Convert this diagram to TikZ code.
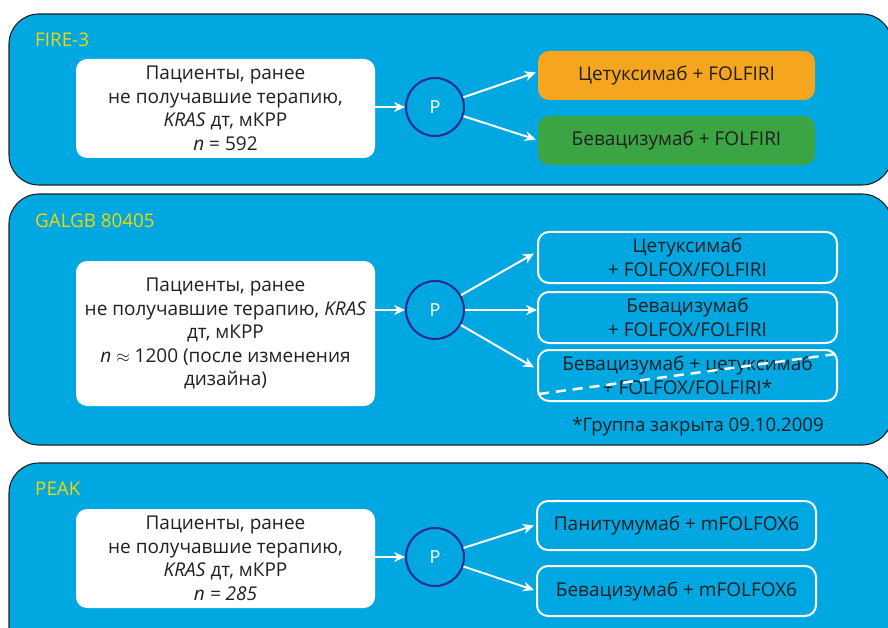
\documentclass[tikz,border=0pt]{standalone}
\usepackage{fontspec}
\setmainfont{Open Sans}
\usetikzlibrary{arrows.meta,calc}
\definecolor{panelblue}{RGB}{0,167,225}
\definecolor{titleyellow}{RGB}{245,214,0}
\definecolor{orangebox}{RGB}{246,166,30}
\definecolor{greenbox}{RGB}{59,165,67}
\definecolor{ringblue}{RGB}{46,42,140}
\definecolor{darktext}{RGB}{35,31,32}
\tikzset{
  panel/.style={draw=darktext, line width=1.1pt, fill=panelblue, rounded corners=30pt},
  ttl/.style={anchor=west, text=titleyellow, font=\fontsize{18.8}{22}\selectfont, inner sep=0pt},
  pbox/.style={fill=white, rounded corners=11pt, align=center, text=darktext,
    font=\fontsize{19}{23.5}\selectfont, minimum width=299pt, inner sep=0pt},
  rnd/.style={circle, draw=ringblue, line width=2pt, fill=panelblue, minimum size=58pt,
    inner sep=0pt, text=white, font=\fontsize{18}{20}\selectfont},
  tbox/.style={rounded corners=11pt, align=center, text=darktext, inner sep=0pt,
    font=\fontsize{19}{23.5}\selectfont},
  obox/.style={tbox, draw=white, line width=2pt},
  arr/.style={draw=white, line width=2pt, -{Stealth[length=11pt,width=10pt]}},
  note/.style={text=darktext, font=\fontsize{18.6}{21}\selectfont, inner sep=0pt}
}
\begin{document}
\begin{tikzpicture}[x=1pt,y=-1pt]
\useasboundingbox (0,0) rectangle (888,628);
% panels
\path[panel] (9,14) rectangle (892,185);
\path[panel] (9,194) rectangle (892,445);
\path[panel] (9,463) rectangle (892,660);
% titles
\node[ttl] (h1) at (35,40) {FIRE-3};
\node[ttl] (h2) at (35,221) {GALGB 80405};
\node[ttl] (h3) at (35,489) {PEAK};
% ---- panel 1
\node[pbox, minimum height=99pt] (p1) at (225.5,108.5)
  {Пациенты, ранее\\не получавшие терапию,\\\textit{KRAS} дт, мКРР\\\textit{n} = 592};
\node[rnd] (r1) at (435,107) {P};
\node[tbox, fill=orangebox, minimum width=277pt, minimum height=49pt] (t1) at (676.5,75.5) {Цетуксимаб + FOLFIRI};
\node[tbox, fill=greenbox, minimum width=277pt, minimum height=49pt] (t2) at (676.5,140.5) {Бевацизумаб + FOLFIRI};
\draw[arr] (p1.east |- r1) -- (r1.west);
\draw[arr] (r1) -- ($(t1.west)+(-2,-3)$);
\draw[arr] (r1) -- ($(t2.west)+(-2,-1)$);
% ---- panel 2
\node[pbox, minimum height=145pt] (p2) at (225.5,333.5)
  {Пациенты, ранее\\не получавшие терапию, \textit{KRAS}\\дт, мКРР\\\textit{n} $\approx$ 1200 (после изменения\\дизайна)};
\node[rnd] (r2) at (435,310) {P};
\node[obox, minimum width=299pt, minimum height=51pt] (t3) at (687.5,257.5) {Цетуксимаб\\+ FOLFOX/FOLFIRI};
\node[obox, minimum width=299pt, minimum height=51pt] (t4) at (687.5,317.5) {Бевацизумаб\\+ FOLFOX/FOLFIRI};
\node[obox, minimum width=299pt, minimum height=51pt] (t5) at (687.5,375.5) {Бевацизумаб + цетуксимаб\\+ FOLFOX/FOLFIRI*};
\draw[white, line width=2.5pt, dash pattern=on 10pt off 7pt] ($(t5.south west)+(2,-8)$) -- ($(t5.north east)+(-2,5)$);
\node[note] (fn) at (698,427) {*Группа закрыта 09.10.2009};
\draw[arr] (p2.east |- r2) -- (r2.west);
\draw[arr] (r2) -- ($(t3.west)+(-3,-4)$);
\draw[arr] (r2.east) -- (r2.east -| t4.west) ;
\draw[arr] (r2) -- ($(t5.west)+(-3,-8)$);
% ---- panel 3
\node[pbox, minimum height=99pt] (p3) at (225.5,558.5)
  {Пациенты, ранее\\не получавшие терапию,\\\textit{KRAS} дт, мКРР\\\textit{n = 285}};
\node[rnd] (r3) at (435,557) {P};
\node[obox, minimum width=279pt, minimum height=49pt] (t6) at (676.5,525.5) {Панитумумаб + mFOLFOX6};
\node[obox, minimum width=279pt, minimum height=50pt] (t7) at (676.5,591) {Бевацизумаб + mFOLFOX6};
\draw[arr] (p3.east |- r3) -- (r3.west);
\draw[arr] (r3) -- ($(t6.west)+(-2,0)$);
\draw[arr] (r3) -- ($(t7.west)+(-2,-1)$);
\end{tikzpicture}
\end{document}
